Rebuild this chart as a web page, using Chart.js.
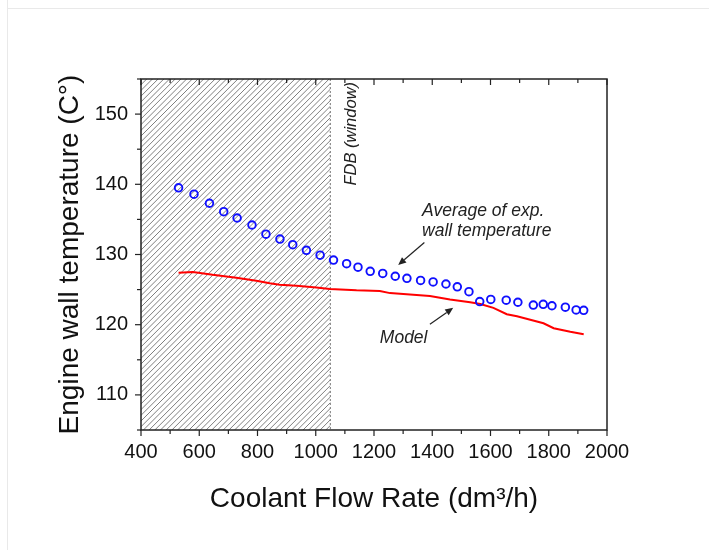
<!DOCTYPE html>
<html>
<head>
<meta charset="utf-8">
<script src="https://cdn.jsdelivr.net/npm/chart.js@4"></script>
<style>
  body { margin: 0; background: #fff; }
  #wrap { position: relative; width: 709px; height: 550px; }
  #frameL { position: absolute; left: 7px; top: 0; width: 1px; height: 550px; background: #e9e9e9; }
  #frameT { position: absolute; left: 7px; top: 8px; width: 702px; height: 1px; background: #e9e9e9; }
</style>
</head>
<body>
<div id="wrap">
  <canvas id="showdata"></canvas>
  <div id="frameL"></div>
  <div id="frameT"></div>
</div>
<script>
const flowExp = [529, 582, 635, 684, 730, 781, 829, 877, 921, 968, 1015, 1061, 1106, 1145, 1187,
  1230, 1273, 1313, 1360, 1403, 1447, 1486, 1526, 1563, 1601, 1654, 1694, 1747, 1781, 1811, 1857, 1894, 1920];
const tempExp = [139.5, 138.6, 137.3, 136.1, 135.2, 134.2, 132.9, 132.2, 131.4, 130.6, 129.9, 129.2, 128.7, 128.2, 127.6,
  127.3, 126.9, 126.6, 126.3, 126.1, 125.8, 125.4, 124.7, 123.3, 123.6, 123.5, 123.2, 122.8, 122.9, 122.7, 122.5, 122.1, 122.05];

// model curve
const flowModel = [529, 578, 646, 727, 796, 842, 876, 934, 1002, 1048, 1140, 1220, 1255, 1392, 1461, 1530, 1565, 1610, 1656, 1691, 1782, 1817, 1874, 1920];
const tempModel = [127.4, 127.5, 127.1, 126.7, 126.25, 125.9, 125.7, 125.55, 125.3, 125.1, 124.9, 124.8, 124.5, 124.1, 123.6, 123.2, 122.95, 122.4, 121.5, 121.2, 120.2, 119.5, 119.0, 118.65];

const xTicks = [400, 600, 800, 1000, 1200, 1400, 1600, 1800, 2000];
const yTicks = [110, 120, 130, 140, 150];
const fdbStart = 400;
const fdbEnd = 1050;

const FONT = "'Liberation Sans', Arial, sans-serif";

function pts(xs, ys) {
  return xs.map((x, i) => ({x: x, y: ys[i]}));
}

const decoPlugin = {
  id: 'deco',
  beforeDatasetsDraw(chart) {
    const ctx = chart.ctx;
    const xs = chart.scales.x;
    const {top, bottom} = chart.chartArea;
    const x0 = xs.getPixelForValue(fdbStart);
    const x1 = xs.getPixelForValue(fdbEnd);
    ctx.save();
    ctx.beginPath();
    ctx.rect(x0, top, x1 - x0, bottom - top);
    ctx.clip();
    ctx.strokeStyle = '#707070';
    ctx.lineWidth = 0.9;
    const h = bottom - top;
    for (let s = x0 - h; s < x1 + 6; s += 5.7) {
      ctx.beginPath();
      ctx.moveTo(s, bottom);
      ctx.lineTo(s + h, top);
      ctx.stroke();
    }
    ctx.restore();
    // dashed border of the window
    ctx.save();
    ctx.strokeStyle = '#777';
    ctx.lineWidth = 1;
    ctx.setLineDash([2, 2]);
    ctx.beginPath();
    ctx.moveTo(x1, top);
    ctx.lineTo(x1, bottom);
    ctx.stroke();
    ctx.restore();
  },
  afterDatasetsDraw(chart) {
    const ctx = chart.ctx;
    const xs = chart.scales.x, ys = chart.scales.y;
    const px = v => xs.getPixelForValue(v);
    const py = v => ys.getPixelForValue(v);
    ctx.save();
    ctx.fillStyle = '#222';
    // FDB label, rotated
    ctx.save();
    ctx.font = 'italic 16.5px ' + FONT;
    ctx.translate(px(1124), py(147.2));
    ctx.rotate(-Math.PI / 2);
    ctx.textAlign = 'center';
    ctx.textBaseline = 'middle';
    ctx.fillText('FDB (window)', 0, 0);
    ctx.restore();
    ctx.font = 'italic 17.5px ' + FONT;
    ctx.textAlign = 'left';
    ctx.textBaseline = 'middle';
    ctx.fillText('Average of exp.', px(1365), py(136.2));
    ctx.fillText('wall temperature', px(1365), py(133.3));
    ctx.fillText('Model', px(1220), py(118.1));
    arrow(ctx, px(1373), py(131.7), px(1283), py(128.5));
    arrow(ctx, px(1392), py(120.05), px(1472), py(122.4));
    ctx.restore();
  },
  afterDraw(chart) {
    const ctx = chart.ctx;
    const xs = chart.scales.x, ys = chart.scales.y;
    const {left, right, top, bottom} = chart.chartArea;
    ctx.save();
    ctx.strokeStyle = '#222';
    ctx.lineWidth = 1.5;
    ctx.strokeRect(left, top, right - left, bottom - top);
    ctx.lineWidth = 1.2;
    // x ticks: majors + midpoints
    const xAll = [];
    xTicks.forEach((v, i) => {
      xAll.push([v, true]);
      if (i < xTicks.length - 1) xAll.push([(v + xTicks[i + 1]) / 2, false]);
    });
    xAll.forEach(([v, major]) => {
      const x = xs.getPixelForValue(v);
      const len = major ? 6 : 4;
      ctx.beginPath();
      ctx.moveTo(x, bottom);
      ctx.lineTo(x, bottom + len);
      ctx.moveTo(x, top);
      ctx.lineTo(x, top + len);
      ctx.stroke();
    });
    // y ticks
    const yAll = [[yTicks[0] - 5, false]];
    yTicks.forEach(v => { yAll.push([v, true]); yAll.push([v + 5, false]); });
    yAll.forEach(([v, major]) => {
      if (v < ys.min || v > ys.max) return;
      const y = ys.getPixelForValue(v);
      const len = major ? 6 : 4;
      ctx.beginPath();
      ctx.moveTo(left, y);
      ctx.lineTo(left - len, y);
      ctx.stroke();
    });
    ctx.restore();
  }
};

function arrow(ctx, x0, y0, x1, y1) {
  ctx.save();
  ctx.strokeStyle = '#222';
  ctx.fillStyle = '#222';
  ctx.lineWidth = 1.2;
  const a = Math.atan2(y1 - y0, x1 - x0);
  const hl = 8, hw = 3.5;
  const bx = x1 - hl * Math.cos(a), by = y1 - hl * Math.sin(a);
  ctx.beginPath();
  ctx.moveTo(x0, y0);
  ctx.lineTo(bx, by);
  ctx.stroke();
  ctx.beginPath();
  ctx.moveTo(x1, y1);
  ctx.lineTo(bx + hw * Math.sin(a), by - hw * Math.cos(a));
  ctx.lineTo(bx - hw * Math.sin(a), by + hw * Math.cos(a));
  ctx.closePath();
  ctx.fill();
  ctx.restore();
}

const ctx = document.getElementById('showdata').getContext('2d');
new Chart(ctx, {
  type: 'scatter',
  data: {
    datasets: [{
      label: 'Average of exp. wall temperature',
      data: pts(flowExp, tempExp),
      showLine: false,
      pointStyle: 'circle',
      pointRadius: 3.8,
      pointBorderWidth: 1.9,
      borderColor: '#1010ff',
      backgroundColor: 'rgba(0,0,0,0)',
      pointBackgroundColor: 'rgba(0,0,0,0)'
    }, {
      type: 'line',
      label: 'Model',
      data: pts(flowModel, tempModel),
      borderColor: '#ff0000',
      borderWidth: 2,
      pointRadius: 0,
      tension: 0,
      fill: false
    }]
  },
  options: {
    responsive: true,
    maintainAspectRatio: false,
    animation: false,
    layout: { padding: { left: 0, right: 102, top: 79, bottom: 0 } },
    plugins: { legend: { display: false }, tooltip: { enabled: false } },
    scales: {
      x: {
        type: 'linear',
        min: 400,
        max: 2000,
        afterBuildTicks: s => { s.ticks = xTicks.map(v => ({value: v})); },
        afterFit: s => { s.height = 120; },
        grid: { display: false, drawTicks: false },
        border: { display: false },
        ticks: { color: '#111', padding: 10, maxRotation: 0, font: { family: FONT, size: 20 },
          callback: v => String(v) },
        title: {
          display: true,
          text: 'Coolant Flow Rate (dm³/h)',
          color: '#111',
          font: { family: FONT, size: 28, lineHeight: 1.2 },
          padding: { top: 0, bottom: 34 }
        }
      },
      y: {
        min: 105,
        max: 155,
        afterBuildTicks: s => { s.ticks = yTicks.map(v => ({value: v})); },
        afterFit: s => { s.width = 141; },
        grid: { display: false, drawTicks: false },
        border: { display: false },
        ticks: { color: '#111', padding: 13, font: { family: FONT, size: 20 },
          callback: v => String(v) },
        title: {
          display: true,
          text: 'Engine wall temperature (C°)',
          color: '#111',
          font: { family: FONT, size: 28, lineHeight: 1.2 },
          padding: { top: 53, bottom: 0 }
        }
      }
    }
  },
  plugins: [decoPlugin]
});
</script>
</body>
</html>
